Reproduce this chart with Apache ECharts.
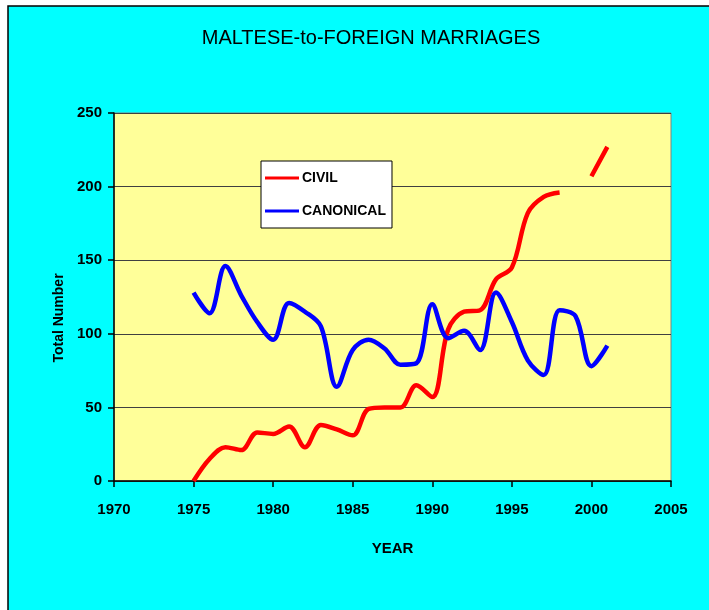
<!DOCTYPE html>
<html style="height: 100%">
<head>
    <meta charset="utf-8">
</head>
<body style="height: 100%; margin: 0">
    <div id="container" style="width: 709px; height: 610px"></div>

    <script type="text/javascript" src="https://cdn.jsdelivr.net/npm/echarts@6.0.0/dist/echarts.min.js"></script>
    <script type="text/javascript">
        var dom = document.getElementById("container");
        var myChart = echarts.init(dom);
        var option;

        // yearly totals (1999 civil is missing)
        var years = [1975, 1976, 1977, 1978, 1979, 1980, 1981, 1982, 1983, 1984,
                     1985, 1986, 1987, 1988, 1989, 1990, 1991, 1992, 1993, 1994,
                     1995, 1996, 1997, 1998, 1999, 2000, 2001];
        var civil = [0, 15, 23, 21, 33, 32, 37, 23, 38, 35,
                     31, 49, 50, 50, 65, 57, 103, 115, 116, 137,
                     145, 182, 193, 196, null, 207, 227];
        var canonical = [128, 114, 146, 126, 108, 96, 121, 115, 105, 64,
                         89, 96, 90, 79, 80, 120, 97, 102, 89, 128,
                         108, 82, 72, 116, 112, 78, 92];

        function pairs(vals) {
            return years.map(function (y, i) { return [y, vals[i]]; });
        }

        var font = 'Liberation Sans';

        option = {
            backgroundColor: '#ffffff',
            animation: false,
            graphic: [{
                type: 'rect',
                z: -10,
                shape: { x: 8, y: 6, width: 720, height: 620 },
                style: { fill: '#00ffff', stroke: '#000000', lineWidth: 1.5 }
            }],
            title: {
                text: 'MALTESE-to-FOREIGN MARRIAGES',
                left: 366,
                textAlign: 'center',
                top: 23,
                textStyle: { fontFamily: font, fontSize: 20, fontWeight: 'normal', color: '#000' }
            },
            legend: {
                orient: 'vertical',
                left: 261,
                top: 161,
                backgroundColor: '#ffffff',
                borderColor: '#000000',
                borderWidth: 1,
                padding: [10, 6, 10, 4],
                itemGap: 19,
                itemWidth: 34,
                itemHeight: 3,
                icon: 'rect',
                textStyle: { fontFamily: font, fontSize: 14, fontWeight: 'bold', color: '#000', padding: [0, 0, 0, -2] },
                data: ['CIVIL', 'CANONICAL']
            },
            grid: {
                left: 114, right: 38, top: 113, bottom: 129,
                show: true,
                backgroundColor: '#ffff99',
                borderColor: '#808080',
                borderWidth: 1
            },
            xAxis: {
                type: 'value',
                min: 1970, max: 2005, interval: 5,
                name: 'YEAR',
                nameLocation: 'middle',
                nameGap: 60,
                nameTextStyle: { fontFamily: font, fontSize: 15, fontWeight: 'bold', color: '#000' },
                axisLine: { lineStyle: { color: '#000', width: 1.5 } },
                axisTick: { length: 6, lineStyle: { color: '#000', width: 1.5 } },
                axisLabel: {
                    fontFamily: font, fontSize: 15, fontWeight: 'bold', color: '#000', margin: 21,
                    formatter: function (v) { return String(v); }
                },
                splitLine: { show: false }
            },
            yAxis: {
                type: 'value',
                min: 0, max: 250, interval: 50,
                name: 'Total Number',
                nameLocation: 'middle',
                nameGap: 47,
                nameTextStyle: { fontFamily: font, fontSize: 14, fontWeight: 'bold', color: '#000', padding: [0, 42, 0, 0] },
                axisLine: { show: true, lineStyle: { color: '#000', width: 1.5 } },
                axisTick: { show: true, length: 6, lineStyle: { color: '#000', width: 1.5 } },
                axisLabel: { fontFamily: font, fontSize: 15, fontWeight: 'bold', color: '#000', margin: 12 },
                splitLine: { lineStyle: { color: '#404040', width: 1.2 } }
            },
            series: [
                {
                    name: 'CIVIL',
                    type: 'line',
                    data: pairs(civil),
                    smooth: 0.35,
                    showSymbol: false,
                    connectNulls: false,
                    color: '#ff0000',
                    lineStyle: { width: 4.5, color: '#ff0000' }
                },
                {
                    name: 'CANONICAL',
                    type: 'line',
                    data: pairs(canonical),
                    smooth: 0.35,
                    showSymbol: false,
                    color: '#0000ff',
                    lineStyle: { width: 4.5, color: '#0000ff' }
                }
            ]
        };
        myChart.setOption(option);
    </script>
</body>
</html>
